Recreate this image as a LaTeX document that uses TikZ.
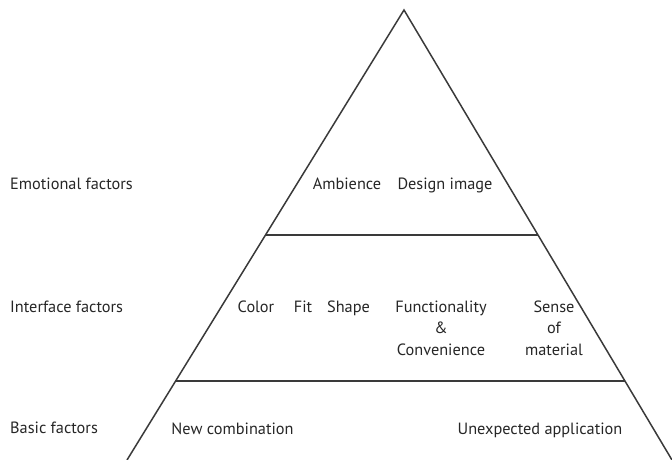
\documentclass[tikz,border=0pt]{standalone}
\usepackage{fontspec}
\setmainfont{PT Sans}
\usetikzlibrary{calc}
\definecolor{inkc}{HTML}{262626}
\definecolor{linec}{HTML}{3A3A3A}
\begin{document}
\begin{tikzpicture}[x=1pt,y=-1pt,
  lbl/.style={inner sep=0pt, text=inkc, font=\fontsize{16.3}{21.5}\selectfont, align=center},
  edge/.style={draw=linec, line width=1.5pt}]
\useasboundingbox (0,0) rectangle (672,460);
\coordinate (apex) at (404,10);
\coordinate (bl) at (127,460);
\coordinate (br) at (672,460);
\coordinate (l1) at ($(apex)!0.5!(bl)$);
\coordinate (r1) at ($(apex)!0.5!(br)$);
\coordinate (l2) at ($(apex)!0.8244!(bl)$);
\coordinate (r2) at ($(apex)!0.8244!(br)$);
\draw[edge, line join=miter] (bl) -- (apex) -- (br);
\draw[edge] (l1) -- (r1);
\draw[edge] (l2) -- (r2);
\draw[draw=black!15, line width=1pt] (bl) -- (br);
% left labels
\node[lbl, anchor=base west] (emo) at (10,189) {Emotional factors};
\node[lbl, anchor=base west] (intf) at (10,312) {Interface factors};
\node[lbl, anchor=base west] (basic) at (10,433) {Basic factors};
% top band
\node[lbl, anchor=base] (amb) at (347,189) {Ambience};
\node[lbl, anchor=base] (dimg) at (445,189) {Design image};
% middle band
\node[lbl, anchor=base] (col) at (256,312) {Color};
\node[lbl, anchor=base] (fit) at (303,312) {Fit};
\node[lbl, anchor=base] (shp) at (348.5,312) {Shape};
\node[lbl, anchor=base] (func) at (441,355) {Functionality\\\&\\Convenience};
\node[lbl, anchor=base] (sense) at (554,355) {Sense\\of\\material};
% bottom band
\node[lbl, anchor=base] (newc) at (232.5,434) {New combination};
\node[lbl, anchor=base] (unex) at (540,434) {Unexpected application};
\end{tikzpicture}
\end{document}
